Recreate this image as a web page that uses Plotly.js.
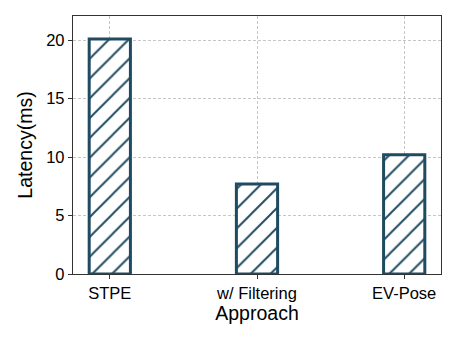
<!DOCTYPE html>
<html>
<head>
<meta charset="utf-8">
<script src="https://cdn.plot.ly/plotly-3.0.1.min.js"></script>
<style>
  html, body { margin: 0; padding: 0; background: #fff; }
  #chart { width: 459px; height: 344px; }
</style>
</head>
<body>
<div id="chart"></div>
<script>
// Latência por abordagem
const approaches = ['STPE', 'w/ Filtering', 'EV-Pose'];
const latencyMs = [20.1, 7.7, 10.2];
const yTicks = [0, 5, 10, 15, 20];

const edgeColor = '#1f4b61';

const data = [{
    x: approaches,
    y: latencyMs,
    type: 'bar',
    width: 0.28,
    marker: {
        color: '#ffffff',
        line: { color: edgeColor, width: 3 },
        pattern: {
            shape: '/',
            fgcolor: edgeColor,
            fgopacity: 1,
            bgcolor: '#ffffff',
            size: 14,
            solidity: 0.14
        }
    },
    hoverinfo: 'skip'
}];

const axisFont = { family: 'Liberation Sans, Arial, sans-serif', size: 16.5, color: '#000' };
const titleFont = { family: 'Liberation Sans, Arial, sans-serif', size: 19.5, color: '#000' };

const gridStyle = {
    showgrid: true,
    gridcolor: '#b8b8b8',
    griddash: '3px,2px',
    gridwidth: 0.8,
    ticks: 'outside',
    ticklen: 4,
    tickcolor: '#333',
    showline: true,
    linecolor: '#333',
    linewidth: 1.2,
    mirror: true,
    zeroline: false
};

const layout = {
    width: 459,
    height: 344,
    margin: { l: 73, r: 18, t: 16, b: 70 },
    paper_bgcolor: '#ffffff',
    plot_bgcolor: '#ffffff',
    showlegend: false,
    xaxis: Object.assign({
        range: [-0.25, 2.25],
        tickfont: axisFont,
        title: { text: 'Approach', font: titleFont, standoff: 4 }
    }, gridStyle),
    yaxis: Object.assign({
        range: [0, 22.07],
        tickvals: yTicks,
        ticktext: yTicks.map(String),
        tickfont: axisFont,
        title: { text: 'Latency(ms)', font: titleFont, standoff: 8 }
    }, gridStyle)
};

Plotly.newPlot('chart', data, layout, { displayModeBar: false, staticPlot: true });
</script>
</body>
</html>
